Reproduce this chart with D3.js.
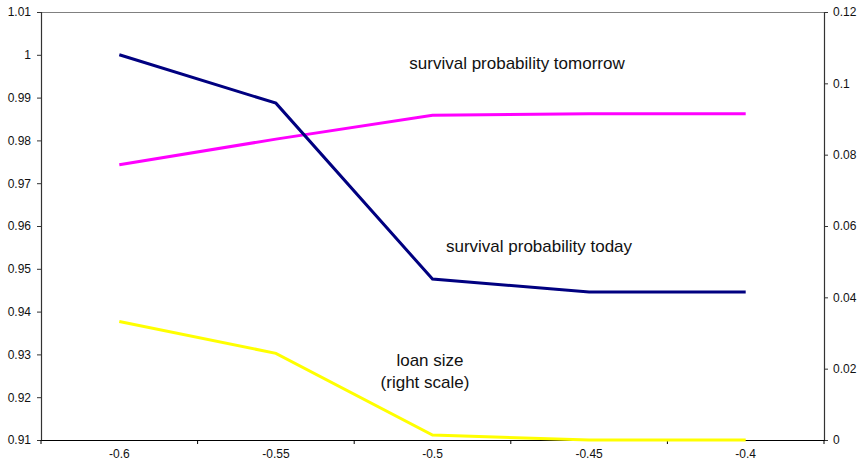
<!DOCTYPE html>
<html>
<head>
<meta charset="utf-8">
<script src="https://cdn.jsdelivr.net/npm/d3@7"></script>
<style>
  html, body { margin: 0; padding: 0; background: #fff; }
  svg { display: block; font-family: "Liberation Sans", Arial, sans-serif; }
</style>
</head>
<body>
<svg id="chart" width="860" height="462"></svg>
<script>
// Categories along the x axis
const categories = ["-0.6", "-0.55", "-0.5", "-0.45", "-0.4"];

// Left-scale series
const survivalToday    = [1.0, 0.9887, 0.9476, 0.9446, 0.9446];
const survivalTomorrow = [0.9743, 0.9803, 0.9859, 0.9862, 0.9862];

// Right-scale series
const loanSize = [0.0332, 0.0243, 0.0014, 0, 0];

// Axis ticks
const leftTicks  = [0.91, 0.92, 0.93, 0.94, 0.95, 0.96, 0.97, 0.98, 0.99, 1, 1.01];
const rightTicks = [0, 0.02, 0.04, 0.06, 0.08, 0.1, 0.12];

const svg = d3.select("#chart");
const plotL = 41, plotR = 824, plotT = 12, plotB = 440;

const x = d3.scaleBand().domain(categories).range([plotL, plotR]).padding(0);
const yL = d3.scaleLinear().domain([0.91, 1.01]).range([plotB, plotT]);
const yR = d3.scaleLinear().domain([0, 0.12]).range([plotB, plotT]);
const cx = c => x(c) + x.bandwidth() / 2;
const fmt = d => String(+d.toFixed(2));

// top frame line
svg.append("line")
  .attr("x1", plotL).attr("x2", plotR).attr("y1", plotT + 0.5).attr("y2", plotT + 0.5)
  .attr("stroke", "#808080").attr("stroke-width", 1);

// left axis
const gL = svg.append("g").attr("transform", `translate(${plotL},0)`)
  .call(d3.axisLeft(yL).tickValues(leftTicks).tickSize(4).tickPadding(6).tickFormat(fmt));
// right axis
const gR = svg.append("g").attr("transform", `translate(${plotR},0)`)
  .call(d3.axisRight(yR).tickValues(rightTicks).tickSize(4).tickPadding(5).tickFormat(fmt));
// bottom axis with ticks on category boundaries
const gB = svg.append("g").attr("transform", `translate(0,${plotB})`)
  .call(d3.axisBottom(x).tickSize(0).tickPadding(9));
gB.selectAll(".bound").data(d3.range(categories.length + 1)).enter().append("line")
  .attr("class", "bound")
  .attr("x1", i => plotL + i * x.bandwidth())
  .attr("x2", i => plotL + i * x.bandwidth())
  .attr("y1", 0).attr("y2", 4)
  .attr("stroke", "#000");

[gL, gR, gB].forEach(g => {
  g.select(".domain").attr("stroke", "#333").attr("stroke-width", 1.2);
  g.selectAll(".tick line").attr("stroke", "#333");
  g.selectAll("text").attr("font-size", 12).attr("fill", "#111")
    .attr("font-family", "Liberation Sans, Arial, sans-serif");
});
gB.select(".domain").attr("stroke", "#000");

const lineL = d3.line().x((d, i) => cx(categories[i])).y(d => yL(d));
const lineR = d3.line().x((d, i) => cx(categories[i])).y(d => yR(d));

svg.append("path").datum(loanSize).attr("d", lineR)
  .attr("fill", "none").attr("stroke", "#FFFF00").attr("stroke-width", 3);
svg.append("path").datum(survivalTomorrow).attr("d", lineL)
  .attr("fill", "none").attr("stroke", "#FF00FF").attr("stroke-width", 3);
svg.append("path").datum(survivalToday).attr("d", lineL)
  .attr("fill", "none").attr("stroke", "#000080").attr("stroke-width", 3);

// series annotations
const notes = [
  { t: "survival probability tomorrow", x: 517, y: 69 },
  { t: "survival probability today", x: 539, y: 252 },
  { t: "loan size", x: 430, y: 366 },
  { t: "(right scale)", x: 425, y: 388 }
];
svg.selectAll(".note").data(notes).enter().append("text")
  .attr("class", "note")
  .attr("x", d => d.x).attr("y", d => d.y)
  .attr("text-anchor", "middle")
  .attr("font-size", 17).attr("fill", "#111")
  .text(d => d.t);
</script>
</body>
</html>
